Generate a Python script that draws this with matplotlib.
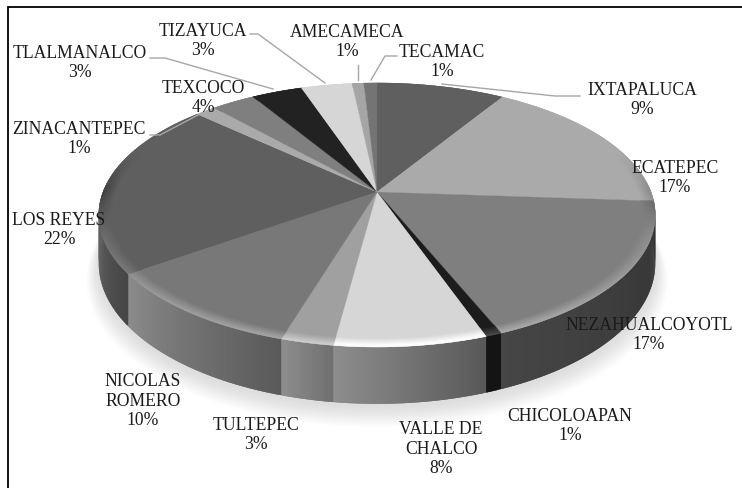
import numpy as np
import matplotlib
matplotlib.use("Agg")
import matplotlib.pyplot as plt

# clockwise from 12 o'clock
names = ["IXTAPALUCA", "ECATEPEC", "NEZAHUALCOYOTL", "CHICOLOAPAN", "VALLE DE\nCHALCO",
         "TULTEPEC", "NICOLAS\nROMERO", "LOS REYES", "ZINACANTEPEC", "TEXCOCO",
         "TLALMANALCO", "TIZAYUCA", "AMECAMECA", "TECAMAC"]
labels_pct = [9, 17, 17, 1, 8, 3, 10, 22, 1, 4, 3, 3, 1, 1]
# slice sizes as drawn, they differ a bit from the rounded labels
shares = [8.8, 17.3, 17.7, 0.8, 7.5, 2.6, 10.5, 21.7, 1.4, 3.0, 3.5, 3.5, 0.8, 0.9]

top_grey = [95, 170, 127, 28, 214, 160, 120, 95, 170, 127, 34, 214, 165, 116]
side_left = [60, 60, 70, 20, 142, 143, 140, 105, 80, 80, 30, 120, 90, 70]
side_right = [50, 60, 50, 20, 88, 112, 90, 70, 80, 80, 30, 120, 90, 70]

label_x = [642, 675, 649, 570, 441, 256, 143, 59, 79, 203, 80, 203, 347, 442]
label_y = [100, 178, 335, 426, 449, 435, 401, 230, 139, 98, 63, 41, 42, 62]

leaders = [([580, 555, 442], [96, 96, 84]),
           ([150, 165, 273], [58, 58, 89]),
           ([250, 258, 325], [34, 34, 83]),
           ([358, 358], [65, 80]),
           ([397, 385, 371], [56, 56, 80]),
           ([150, 160, 198], [135, 135, 115])]

CX, CY = 377, 192
RX, RY = 274, 128
K = 0.174
DEPTH = 47


def project(theta, r=1.0, depth=0.0):
    """ circle point to picture point, the far side is squeezed """
    w = 1 + K * r * np.cos(theta)
    return CX + RX * r * np.sin(theta) / w, CY - RY * r * np.cos(theta) / w + depth / w


def grey(v):
    v = min(max(v, 0), 255) / 255
    return (v, v, v)


fig = plt.figure(figsize=(7.42, 4.88), dpi=100)
ax = fig.add_axes([0, 0, 1, 1])
ax.set_xlim(0, 742)
ax.set_ylim(488, 0)
ax.axis("off")

edges = np.cumsum([0] + shares) / sum(shares) * 2 * np.pi

# soft shadow under the pie
t = np.linspace(0, 2 * np.pi, 300)
bx, by = project(t, 1.0, DEPTH)
for i in range(12):
    f = 1 + 0.004 * i
    ax.fill(CX + (bx - CX) * f, CY + 4 + (by - CY) * f + i * 0.9, color="#808080",
            alpha=0.02, lw=0, zorder=1)

# side wall, each strip runs over the next one so no seams show
for i in range(len(shares)):
    a = max(edges[i], np.radians(86))
    b = min(edges[i + 1], np.radians(274))
    if a >= b:
        continue
    steps = max(int((b - a) * 120), 2)
    tt = np.linspace(a, b, steps + 1)
    for j in range(steps):
        x0, y0 = project(tt[j])
        x1, y1 = project(tt[min(j + 2, steps)])
        x2, y2 = project(tt[min(j + 2, steps)], 1.0, DEPTH)
        x3, y3 = project(tt[j], 1.0, DEPTH)
        u = j / steps  # runs right to left along the front
        col = grey(side_right[i] + (side_left[i] - side_right[i]) * u)
        ax.fill([x0, x1, x2, x3], [y0, y1, y2, y3], color=col, lw=0, zorder=2)

# top face
for i in range(len(shares)):
    tt = np.linspace(edges[i], edges[i + 1], 60)
    x, y = project(tt)
    ax.fill(np.r_[CX, x], np.r_[CY, y], color=grey(top_grey[i]), lw=0.2, zorder=3)

# bevel along the rim, bright at the front, dark at both ends, none at the back
rings = np.linspace(0.95, 1.0, 9)
for i in range(len(shares)):
    tt = np.linspace(edges[i], edges[i + 1], max(int((edges[i + 1] - edges[i]) * 40), 2) + 1)
    for n in range(len(tt) - 1):
        mid = 0.5 * (tt[n] + tt[n + 1])
        front = np.clip(-np.cos(mid), 0, 1)
        side = np.clip(1 - 3 * abs(np.cos(mid)), 0, 1)
        arc = np.linspace(tt[n], tt[n + 1], 5)
        for k in range(len(rings) - 1):
            x0, y0 = project(arc, rings[k])
            x1, y1 = project(arc[::-1], rings[k + 1])
            h = (k / 7) * (48 * front - 30 * side)
            ax.fill(np.r_[x0, x1], np.r_[y0, y1], color=grey(top_grey[i] + h), lw=0.3, zorder=4)

for xs, ys in leaders:
    ax.plot(xs, ys, color="#a6a6a6", lw=1.0, zorder=5)

for i in range(len(names)):
    ax.text(label_x[i], label_y[i], names[i] + "\n" + str(labels_pct[i]) + "%", ha="center",
            va="center", family="Liberation Serif", fontsize=12.7, color="#1a1a1a",
            linespacing=1.18, zorder=6)

# the frame only shows on the left and at the top
ax.plot([7.5, 7.5, 742], [488, 7, 7], color="black", lw=1.3, zorder=7, solid_joinstyle="miter")

fig.savefig("out.png", dpi=100)
